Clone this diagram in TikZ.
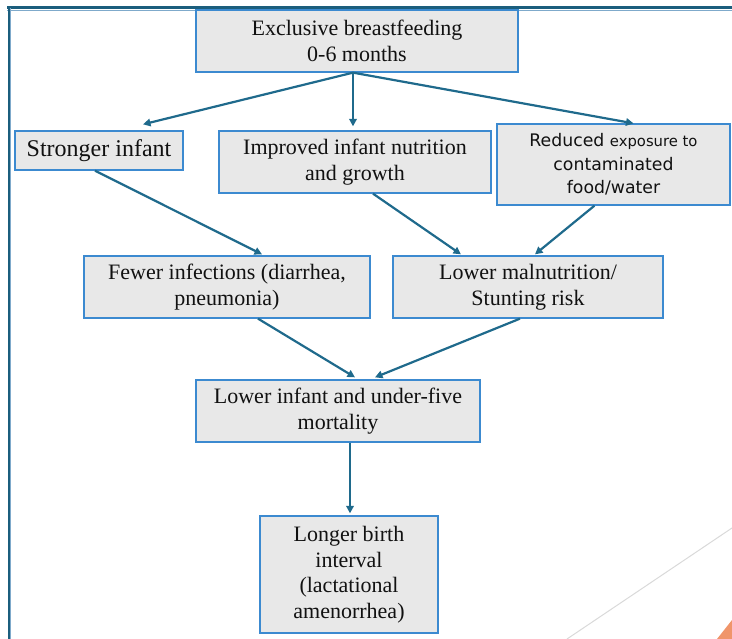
\documentclass[tikz,border=0pt]{standalone}
\usepackage{fontspec}
\setmainfont{Liberation Serif}
\newfontfamily\sansf{DejaVu Sans}
\usetikzlibrary{arrows.meta}
\definecolor{boxfill}{HTML}{E8E8E8}
\definecolor{boxline}{HTML}{3C8AD0}
\definecolor{arrcol}{HTML}{1F6A8C}
\definecolor{framedark}{HTML}{1B5E7D}
\definecolor{framelight}{HTML}{7FAACB}
\definecolor{txt}{HTML}{111111}
\definecolor{deco}{HTML}{D9D9D9}
\definecolor{orangetri}{HTML}{F0956A}
\tikzset{
  fbox/.style={draw=boxline, line width=1.3pt, fill=boxfill, inner sep=0pt,
    align=center, text=txt, font=\fontsize{22}{26}\selectfont},
  arr/.style={draw=arrcol, line width=2.2pt, -{Triangle[length=7.5pt,width=7.5pt]}},
}
\begin{document}
\begin{tikzpicture}[x=1pt,y=-1pt]
\useasboundingbox (0,0) rectangle (732,639);
% frame
\draw[framelight, line width=1pt] (7,10.5) -- (732,10.5);
\draw[framedark, line width=3pt] (7,8) -- (732,8);
\draw[framelight, line width=1pt] (10.5,8) -- (10.5,639);
\draw[framedark, line width=1.6pt] (9,8) -- (9,639);
% decoration bottom right
\draw[deco, line width=1pt] (732,528) -- (567,639);
\fill[orangetri] (717,639) -- (732,620) -- (732,639) -- cycle;
% boxes
\node[fbox, minimum width=322pt, minimum height=62pt] (top) at (357,41) {Exclusive breastfeeding\\0-6 months};
\node[fbox, minimum width=168pt, minimum height=39pt, font=\fontsize{24}{28}\selectfont] (strong) at (99,150.5) {Stronger infant};
\node[fbox, minimum width=272pt, minimum height=62pt] (improved) at (355,162) {Improved infant nutrition\\and growth};
\node[fbox, minimum width=233pt, minimum height=81pt, font=\sansf\fontsize{17.3}{23.5}\selectfont] (reduced) at (613.5,164.5) {Reduced {\fontsize{14.8}{23.5}\selectfont exposure to}\\contaminated\\food/water};
\node[fbox, minimum width=286pt, minimum height=62pt] (fewer) at (227,287) {Fewer infections (diarrhea,\\pneumonia)};
\node[fbox, minimum width=270pt, minimum height=62pt] (lowmal) at (528,287) {Lower malnutrition/\\Stunting risk};
\node[fbox, minimum width=284pt, minimum height=62pt] (mort) at (338,411) {Lower infant and under-five\\mortality};
\node[fbox, minimum width=178pt, minimum height=117pt, font=\fontsize{22}{25.5}\selectfont] (birth) at (349,574.5) {Longer birth\\interval\\(lactational\\amenorrhea)};
% connectors
\coordinate (o) at ([xshift=-4pt]top.south);
\draw[arr] (o) -- ([xshift=44pt,yshift=6pt]strong.north);
\draw[arr] (o) -- ([xshift=-2pt,yshift=4pt]improved.north);
\draw[arr] (o) -- ([xshift=20pt]reduced.north);
\draw[arr] ([xshift=-4pt]strong.south) -- ([xshift=35pt,yshift=1pt]fewer.north);
\draw[arr] ([xshift=18pt]improved.south) -- ([xshift=-67pt,yshift=1pt]lowmal.north);
\draw[arr] ([xshift=-19pt]reduced.south) -- ([xshift=7pt,yshift=1pt]lowmal.north);
\draw[arr] ([xshift=31pt]fewer.south) -- ([xshift=17pt,yshift=2pt]mort.north);
\draw[arr] ([xshift=-8pt]lowmal.south) -- ([xshift=37pt,yshift=2pt]mort.north);
\draw[arr] ([xshift=12pt]mort.south) -- ([xshift=1pt,yshift=2pt]birth.north);
\end{tikzpicture}
\end{document}
